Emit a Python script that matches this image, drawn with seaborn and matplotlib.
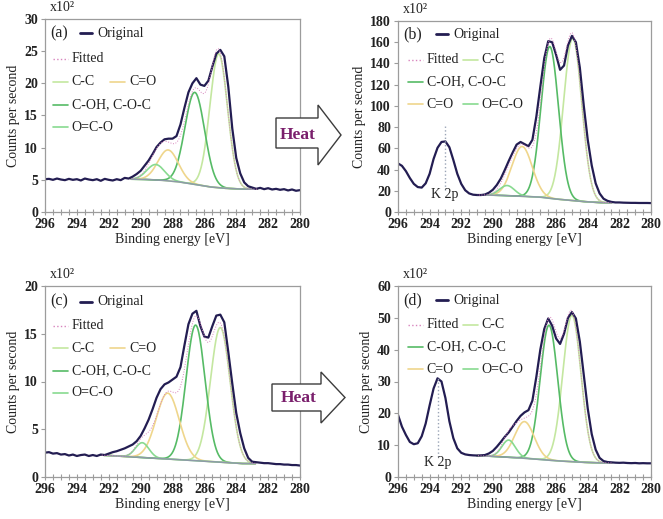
import numpy as np
import matplotlib
matplotlib.use("Agg")
import matplotlib.pyplot as plt
from matplotlib.patches import Polygon
from matplotlib.ticker import MultipleLocator
import seaborn as sns

# binding energy grid of the measured spectra (eV)
ENERGY = [296.0, 295.75, 295.5, 295.25, 295.0, 294.75, 294.5, 294.25,
          294.0, 293.75, 293.5, 293.25, 293.0, 292.75, 292.5, 292.25,
          292.0, 291.75, 291.5, 291.25, 291.0, 290.75, 290.5, 290.25,
          290.0, 289.75, 289.5, 289.25, 289.0, 288.75, 288.5, 288.25,
          288.0, 287.75, 287.5, 287.25, 287.0, 286.75, 286.5, 286.25,
          286.0, 285.75, 285.5, 285.25, 285.0, 284.75, 284.5, 284.25,
          284.0, 283.75, 283.5, 283.25, 283.0, 282.75, 282.5, 282.25,
          282.0, 281.75, 281.5, 281.25, 281.0, 280.75, 280.5, 280.25,
          280.0]

# measured counts (x10^2)
ORIG_A = [5.1, 5.15, 5.0, 5.2, 5.05, 4.95, 5.15, 5.0,
          5.1, 4.9, 5.2, 5.05, 4.95, 5.1, 4.85, 5.15,
          5.0, 4.9, 5.1, 4.95, 5.3, 5.2, 5.5, 5.9,
          6.4, 7.2, 8.0, 9.0, 10.1, 10.8, 11.3, 11.4,
          11.4, 11.8, 13.6, 16.2, 18.6, 20.0, 20.8, 19.8,
          19.6, 20.4, 22.6, 24.6, 25.2, 24.2, 19.5, 13.0,
          8.4, 6.0, 4.6, 4.0, 3.8, 3.6, 3.75, 3.55,
          3.7, 3.5, 3.6, 3.45, 3.55, 3.35, 3.5, 3.3,
          3.4]
ORIG_B = [45.8, 43.5, 38.5, 32.0, 26.5, 23.5, 23.0, 27.0,
          36.0, 50.0, 60.5, 66.0, 66.5, 61.0, 49.0, 36.0,
          26.5, 20.5, 17.5, 16.3, 16.0, 16.0, 16.5, 18.2,
          21.0, 25.5, 31.5, 39.5, 48.0, 56.0, 63.5, 66.0,
          64.0, 62.0, 68.0, 90.0, 118.0, 145.0, 161.0, 160.0,
          148.0, 134.0, 138.0, 157.0, 166.0, 160.0, 136.0, 100.0,
          68.0, 44.0, 27.0, 17.5, 12.5, 10.5, 9.5, 9.0,
          9.0, 8.8, 8.7, 8.6, 8.6, 8.5, 8.5, 8.5,
          8.4]
ORIG_C = [2.55, 2.6, 2.45, 2.5, 2.35, 2.4, 2.25, 2.35,
          2.2, 2.3, 2.35, 2.2, 2.3, 2.2, 2.35, 2.3,
          2.45, 2.6, 2.7, 2.85, 3.0, 3.2, 3.4, 3.75,
          4.3, 5.1, 6.0, 7.1, 8.3, 9.2, 9.7, 9.9,
          10.2, 10.5, 11.5, 13.8, 16.0, 17.1, 17.4, 15.8,
          14.7, 14.6, 15.8, 16.9, 17.0, 16.2, 13.1, 9.8,
          6.7, 4.6, 3.0, 2.0, 1.6, 1.55, 1.5, 1.45,
          1.45, 1.4, 1.35, 1.35, 1.3, 1.3, 1.25, 1.25,
          1.2]
ORIG_D = [19.5, 15.8, 13.2, 11.0, 10.3, 10.6, 12.8, 16.8,
          22.5, 27.8, 31.0, 30.0, 24.8, 17.5, 12.2, 9.0,
          7.6, 7.1, 6.9, 6.8, 6.75, 6.8, 6.9, 7.4,
          8.2, 9.5, 11.0, 12.6, 14.0, 15.8, 17.6, 19.2,
          20.3, 21.0, 24.0, 31.5, 40.0, 46.5, 49.8, 47.5,
          43.5, 41.8, 45.0, 50.0, 51.8, 49.8, 42.5, 32.0,
          21.5, 13.5, 8.6, 6.0, 5.0, 4.7, 4.6, 4.5,
          4.45, 4.5, 4.4, 4.35, 4.4, 4.3, 4.35, 4.3,
          4.3]

# fitted components: centre (eV), height above background, FWHM (eV)
PEAKS_A = {"C-C": (285.1, 20.8, 1.3), "C-OH, C-O-C": (286.6, 14.3, 1.45),
           "C=O": (288.27, 4.8, 1.5), "O=C-O": (289.05, 2.4, 1.3)}
PEAKS_B = {"C-C": (284.95, 153.0, 1.35), "C-OH, C-O-C": (286.4, 143.0, 1.3),
           "C=O": (288.15, 47.0, 1.5), "O=C-O": (289.1, 9.5, 1.1)}
PEAKS_C = {"C-C": (285.0, 14.1, 1.45), "C-OH, C-O-C": (286.55, 14.2, 1.4),
           "C=O": (288.3, 6.9, 1.7), "O=C-O": (289.9, 1.55, 1.0)}
PEAKS_D = {"C-C": (285.0, 46.0, 1.35), "C-OH, C-O-C": (286.45, 42.4, 1.3),
           "C=O": (288.0, 11.5, 1.45), "O=C-O": (289.0, 5.4, 1.0)}

# background under the fit
BG_A_X = [290.6, 289.5, 288.5, 287.5, 286.5, 285.5, 284.5, 283.5, 282.7]
BG_A_Y = [5.1, 5.05, 4.9, 4.65, 4.25, 3.85, 3.65, 3.55, 3.55]
BG_B_X = [291.0, 290.0, 289.0, 288.0, 287.0, 286.0, 285.0, 284.0, 283.0, 282.5]
BG_B_Y = [16.0, 15.9, 15.4, 14.6, 14.0, 12.2, 10.8, 9.5, 8.7, 8.6]
BG_C_X = [292.5, 291.5, 290.5, 289.5, 288.5, 287.5, 286.5, 285.5, 284.5, 283.5, 282.8]
BG_C_Y = [2.3, 2.2, 2.1, 2.0, 1.9, 1.8, 1.7, 1.6, 1.5, 1.4, 1.4]
BG_D_X = [291.0, 290.0, 289.0, 288.0, 287.0, 286.0, 285.0, 284.0, 283.0, 282.5]
BG_D_Y = [6.7, 6.5, 6.2, 5.9, 5.5, 5.1, 4.8, 4.55, 4.4, 4.4]

K2P_B = (293.05, 82, 20.5, 16.8)   # position, line top, line bottom, label y
K2P_D = (293.5, 31.4, 6.3, 4.5)

XTICKS = [296, 294, 292, 290, 288, 286, 284, 282, 280]
YTICKS = {"a": [0, 5, 10, 15, 20, 25, 30],
          "b": [0, 20, 40, 60, 80, 100, 120, 140, 160, 180],
          "c": [0, 5, 10, 15, 20],
          "d": [0, 10, 20, 30, 40, 50, 60]}

NAVY = "#231d52"
PINK = "#d884bd"
STYLE = {
    "Original": dict(color=NAVY, lw=1.6),
    "Fitted": dict(color=PINK, lw=1.0, ls=":"),
    "C-C": dict(color="#c4e7a0", lw=1.2),
    "C=O": dict(color="#efd68c", lw=1.2),
    "C-OH, C-O-C": dict(color="#56bb66", lw=1.2),
    "O=C-O": dict(color="#88da90", lw=1.2),
}
BG_COLOR = "#8e9aa8"
SPINE = "#9c9c9c"
TXT = "#222222"

sns.set_theme(style="white")
plt.rcParams["font.family"] = ["Liberation Serif", "DejaVu Serif"]

W, H = 663, 519
fig = plt.figure(figsize=(W / 100, H / 100), dpi=100)


def add_ax(left, top, right, bottom):
    return fig.add_axes([left / W, 1 - bottom / H, (right - left) / W, (bottom - top) / H])


def gauss(x, c, h, w):
    return h * np.exp(-4 * np.log(2) * (x - c) ** 2 / w ** 2)


def key_row(ax, y, items):
    for x0, name in items:
        ax.plot([x0, x0 + 0.058], [y, y], transform=ax.transAxes, clip_on=False, **STYLE[name])
        ax.text(x0 + 0.074, y, name, transform=ax.transAxes, va="center", ha="left",
                fontsize=10, color=TXT)


def draw_panel(ax, tag, orig, peaks, bg_x, bg_y, rows, row_y, head, k2p=None):
    grid = np.linspace(bg_x[-1], bg_x[0], 400)
    bg = np.interp(grid, bg_x[::-1], bg_y[::-1])
    fitted = bg.copy()
    for name, (c, h, w) in peaks.items():
        comp = gauss(grid, c, h, w)
        fitted += comp
        sns.lineplot(x=grid, y=bg + comp, ax=ax, estimator=None, sort=False, **STYLE[name])
    sns.lineplot(x=grid, y=bg, ax=ax, estimator=None, sort=False, color=BG_COLOR, lw=1.1)
    sns.lineplot(x=ENERGY, y=orig, ax=ax, estimator=None, sort=False, **STYLE["Original"])
    sns.lineplot(x=grid, y=fitted, ax=ax, estimator=None, sort=False, color=PINK, lw=0.7, ls=":")

    if k2p is not None:
        xk, top, bot, ly = k2p
        ax.plot([xk, xk], [bot, top], color="#9aa4b6", lw=1.0, ls=":")
        ax.text(xk, ly, "K 2p", ha="center", va="center", fontsize=10, color=TXT)

    yt = YTICKS[tag]
    ax.set_xticks(XTICKS, [str(t) for t in XTICKS], fontweight="bold", fontsize=10, color=TXT)
    ax.set_yticks(yt, [str(t) for t in yt], fontweight="bold", fontsize=10, color=TXT)
    ax.xaxis.set_minor_locator(MultipleLocator(0.5))
    ax.set_xlim(296, 280)
    ax.set_ylim(0, yt[-1])
    ax.tick_params(axis="x", which="both", direction="inout", length=5, width=0.8,
                   color=SPINE, pad=2, bottom=True)
    ax.tick_params(axis="y", which="major", direction="out", length=3, width=0.8,
                   color=SPINE, pad=2, left=True)
    for sp in ax.spines.values():
        sp.set_color(SPINE)
        sp.set_linewidth(0.9)
    ax.set_xlabel("Binding energy [eV]", fontsize=10, labelpad=1, color=TXT)
    ax.set_ylabel("Counts per second", fontsize=10, labelpad=3, color=TXT)
    ax.text(0.02, 1.058, "x10²", transform=ax.transAxes, ha="left", va="center",
            fontsize=10, color=TXT)

    # legend block
    tx, hx0, ty = head
    ax.text(tx, ty, f"({tag})", transform=ax.transAxes, ha="left", va="center",
            fontsize=11.5, color=TXT)
    ax.plot([hx0, hx0 + 0.047], [ty, ty], transform=ax.transAxes, clip_on=False, color=NAVY, lw=2.0)
    ax.text(hx0 + 0.067, ty, "Original", transform=ax.transAxes, ha="left", va="center",
            fontsize=10, color=TXT)
    for y, items in zip(row_y, rows):
        key_row(ax, y, items)


ROWS_AC = [[(0.031, "Fitted")], [(0.031, "C-C"), (0.255, "C=O")],
           [(0.031, "C-OH, C-O-C")], [(0.031, "O=C-O")]]
ROWY_AC = [0.793, 0.674, 0.554, 0.44]
ROWS_BD = [[(0.04, "Fitted"), (0.257, "C-C")], [(0.04, "C-OH, C-O-C")],
           [(0.04, "C=O"), (0.257, "O=C-O")]]
ROWY_BD = [0.796, 0.68, 0.563]

ax_a = add_ax(45, 19, 300, 212)
ax_b = add_ax(398, 21, 651, 212)
ax_c = add_ax(45, 286, 300, 477)
ax_d = add_ax(398, 286, 651, 477)

draw_panel(ax_a, "a", ORIG_A, PEAKS_A, BG_A_X, BG_A_Y, ROWS_AC, ROWY_AC, (0.022, 0.137, 0.925))
draw_panel(ax_b, "b", ORIG_B, PEAKS_B, BG_B_X, BG_B_Y, ROWS_BD, ROWY_BD, (0.022, 0.152, 0.93), K2P_B)
draw_panel(ax_c, "c", ORIG_C, PEAKS_C, BG_C_X, BG_C_Y, ROWS_AC, ROWY_AC, (0.022, 0.137, 0.918))
draw_panel(ax_d, "d", ORIG_D, PEAKS_D, BG_D_X, BG_D_Y, ROWS_BD, ROWY_BD, (0.022, 0.152, 0.925), K2P_D)


def heat_arrow(left, base, tip, body_top, body_bot, head_top, head_bot, text_xy):
    mid = (head_top + head_bot) / 2
    pts = [(left, body_top), (base, body_top), (base, head_top), (tip, mid),
           (base, head_bot), (base, body_bot), (left, body_bot)]
    pts = [(x / W, 1 - y / H) for x, y in pts]
    fig.add_artist(Polygon(pts, closed=True, transform=fig.transFigure, facecolor="white",
                           edgecolor="#3c3c3c", lw=1.0, zorder=10))
    fig.text(text_xy[0] / W, 1 - text_xy[1] / H, "Heat", ha="center", va="center",
             fontsize=12.5, fontweight="bold", color="#7a1f6c", zorder=11)


heat_arrow(276, 318, 341, 118, 148, 105, 165, (298, 135))
heat_arrow(272, 321, 345, 384, 411, 372, 423, (299, 398))

fig.savefig("out.png", dpi=100, facecolor="white")
